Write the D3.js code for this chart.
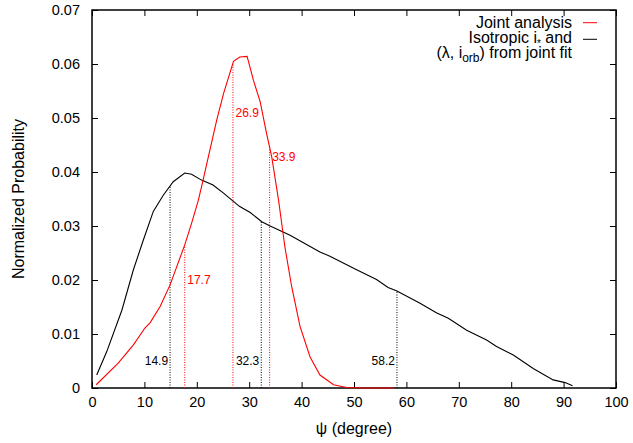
<!DOCTYPE html>
<html>
<head>
<meta charset="utf-8">
<script src="https://cdn.jsdelivr.net/npm/d3@7"></script>
<style>
  html, body { margin: 0; padding: 0; background: #fff; }
  svg { display: block; font-family: "Liberation Sans", Arial, Helvetica, sans-serif; }
</style>
</head>
<body>
<svg id="chart" width="633" height="443"></svg>
<script>
// ---- data ----
const xTicks = [0, 10, 20, 30, 40, 50, 60, 70, 80, 90, 100];
const yTicks = [0, 0.01, 0.02, 0.03, 0.04, 0.05, 0.06, 0.07];
const yTickLabels = ["0", "0.01", "0.02", "0.03", "0.04", "0.05", "0.06", "0.07"];

// Isotropic i* and (lambda, i_orb) from joint fit (black)
const isoPsi = [0.9, 2.8, 5.7, 7.9, 9.8, 11.7, 13.6, 15.5, 17.7, 19.0, 20.9, 23.1, 25.1, 26.7, 28.2, 30.2, 32.4, 34.0, 37.8, 43.5, 45.4, 50.5, 54.3, 56.5, 58.1, 62.6, 65.8, 68.0, 71.5, 75.3, 77.2, 80.4, 84.2, 88.0, 90.3, 91.7];
const isoProb = [0.0024, 0.0067, 0.0144, 0.0219, 0.0274, 0.0327, 0.0357, 0.0382, 0.0398, 0.0396, 0.0385, 0.0376, 0.0361, 0.0348, 0.0336, 0.0325, 0.0308, 0.0300, 0.0283, 0.0252, 0.0244, 0.0219, 0.0201, 0.0186, 0.0180, 0.0157, 0.0139, 0.0129, 0.0107, 0.0089, 0.0077, 0.0061, 0.0036, 0.0015, 0.0010, 0.0004];

// Joint analysis (red)
const jointPsi = [0.8, 5.0, 7.9, 10.1, 11.1, 13.0, 14.9, 17.7, 19.0, 20.3, 21.2, 21.9, 23.8, 25.1, 27.0, 28.2, 29.6, 30.8, 32.1, 33.3, 34.3, 35.6, 36.8, 38.1, 39.7, 41.6, 43.5, 46.1, 48.6, 52.0, 57.5];
const jointProb = [0.0006, 0.0046, 0.0080, 0.0111, 0.0121, 0.0151, 0.0191, 0.0265, 0.0305, 0.0348, 0.0385, 0.0415, 0.0496, 0.0545, 0.0605, 0.0613, 0.0614, 0.0570, 0.0530, 0.0472, 0.0428, 0.0348, 0.0262, 0.0188, 0.0114, 0.0058, 0.0024, 0.0006, 0.0001, 0.0, 0.0];

// marker values
const jointMarks = [17.7, 26.9, 33.9];
const jointMarkLabelY = [0.0200, 0.0510, 0.0428];
const isoMarks = [14.9, 32.3, 58.2];
const isoMarkLabelY = [0.0050, 0.0050, 0.0050];

const legendJoint = "Joint analysis";

// ---- layout ----
const margin = { left: 92, right: 17, top: 10, bottom: 55 };
const W = 633, H = 443;
const svg = d3.select("#chart");

const x = d3.scaleLinear().domain([0, 100]).range([margin.left, W - margin.right]);
const y = d3.scaleLinear().domain([0, 0.07]).range([H - margin.bottom, margin.top]);

const tickLen = 6;
const tickFont = "14.5px";

// ticks (inward, mirrored)
const gx = svg.append("g").attr("transform", `translate(0,${y(0)})`)
  .call(d3.axisBottom(x).tickValues(xTicks).tickSize(-tickLen).tickPadding(9).tickFormat(d3.format("d")));
const gxt = svg.append("g").attr("transform", `translate(0,${y(0.07)})`)
  .call(d3.axisTop(x).tickValues(xTicks).tickSize(-tickLen).tickFormat(""));
const gy = svg.append("g").attr("transform", `translate(${x(0)},0)`)
  .call(d3.axisLeft(y).tickValues(yTicks).tickSize(-tickLen).tickPadding(12).tickFormat((d, i) => yTickLabels[i]));
const gyr = svg.append("g").attr("transform", `translate(${x(100)},0)`)
  .call(d3.axisRight(y).tickValues(yTicks).tickSize(-tickLen).tickFormat(""));

[gx, gxt, gy, gyr].forEach(g => {
  g.select(".domain").remove();
  g.selectAll(".tick line").attr("stroke", "#000").attr("stroke-width", 1);
  g.selectAll("text").attr("fill", "#000").style("font-size", tickFont)
    .style("font-family", '"Liberation Sans", Arial, sans-serif');
});
gx.selectAll("text").attr("dy", "0.71em");

// frame
svg.append("rect")
  .attr("x", x(0)).attr("y", y(0.07))
  .attr("width", x(100) - x(0)).attr("height", y(0) - y(0.07))
  .attr("fill", "none").attr("stroke", "#000").attr("stroke-width", 1.5);

// interpolation helper for marker heights
function interp(xs, ys, v) {
  for (let i = 0; i < xs.length - 1; i++) {
    if (v >= xs[i] && v <= xs[i + 1]) {
      const t = (v - xs[i]) / (xs[i + 1] - xs[i]);
      return ys[i] + t * (ys[i + 1] - ys[i]);
    }
  }
  return 0;
}

// dotted marker lines
const plot = svg.append("g");
isoMarks.forEach((m, i) => {
  plot.append("line")
    .attr("x1", x(m)).attr("x2", x(m))
    .attr("y1", y(0)).attr("y2", y(interp(isoPsi, isoProb, m)))
    .attr("stroke", "#000").attr("stroke-width", 1).attr("stroke-dasharray", "1,1.5");
  plot.append("text")
    .attr("x", x(m) - 2).attr("y", y(isoMarkLabelY[i]))
    .attr("dy", "0.35em").attr("text-anchor", "end")
    .style("font-size", "12px").attr("fill", "#000").text(m.toFixed(1));
});
jointMarks.forEach((m, i) => {
  plot.append("line")
    .attr("x1", x(m)).attr("x2", x(m))
    .attr("y1", y(0)).attr("y2", y(interp(jointPsi, jointProb, m)))
    .attr("stroke", "#ff0000").attr("stroke-width", 1).attr("stroke-dasharray", "1,1.5");
  plot.append("text")
    .attr("x", x(m) + 2.5).attr("y", y(jointMarkLabelY[i]))
    .attr("dy", "0.35em").attr("text-anchor", "start")
    .style("font-size", "12px").attr("fill", "#ff0000").text(m.toFixed(1));
});

// curves
const line = d3.line().x(d => x(d[0])).y(d => y(d[1]));
plot.append("path")
  .datum(isoPsi.map((v, i) => [v, isoProb[i]]))
  .attr("d", line).attr("fill", "none").attr("stroke", "#000").attr("stroke-width", 1.1);
plot.append("path")
  .datum(jointPsi.map((v, i) => [v, jointProb[i]]))
  .attr("d", line).attr("fill", "none").attr("stroke", "#ff0000").attr("stroke-width", 1.1);

// axis labels
svg.append("text")
  .attr("x", (x(0) + x(100)) / 2).attr("y", 434)
  .attr("text-anchor", "middle").style("font-size", "16px").attr("fill", "#000")
  .text("ψ (degree)");
svg.append("text")
  .attr("transform", `translate(24,${(y(0) + y(0.07)) / 2}) rotate(-90)`)
  .attr("text-anchor", "middle").style("font-size", "16px").attr("fill", "#000")
  .text("Normalized Probability");

// legend
const lg = svg.append("g").style("font-size", "16px");
const lx = 572;
lg.append("text").attr("x", lx).attr("y", 28).attr("text-anchor", "end").attr("fill", "#000").text(legendJoint);
const t2 = lg.append("text").attr("x", lx).attr("y", 43).attr("text-anchor", "end").attr("fill", "#000");
t2.append("tspan").text("Isotropic i");
t2.append("tspan").attr("dy", 4).style("font-size", "10px").text("*");
t2.append("tspan").attr("dy", -4).text(" and");
const t3 = lg.append("text").attr("x", lx).attr("y", 58).attr("text-anchor", "end").attr("fill", "#000");
t3.append("tspan").text("(λ, i");
t3.append("tspan").attr("dy", 4).style("font-size", "12px").text("orb");
t3.append("tspan").attr("dy", -4).text(") from joint fit");
lg.append("line").attr("x1", 583).attr("x2", 597).attr("y1", 22.7).attr("y2", 22.7)
  .attr("stroke", "#ff0000").attr("stroke-width", 1);
lg.append("line").attr("x1", 583).attr("x2", 597).attr("y1", 39.3).attr("y2", 39.3)
  .attr("stroke", "#000").attr("stroke-width", 1);
</script>
</body>
</html>
